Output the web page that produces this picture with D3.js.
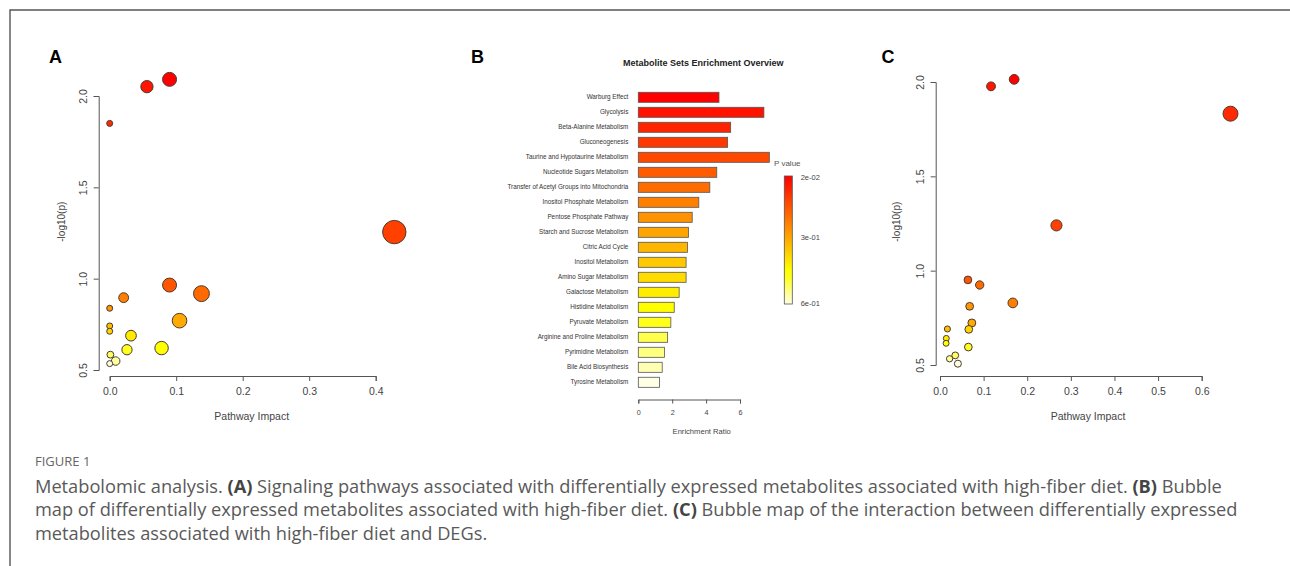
<!DOCTYPE html>
<html>
<head>
<meta charset="utf-8">
<script src="https://cdn.jsdelivr.net/npm/d3@7"></script>
<style>
  html, body { margin: 0; padding: 0; background: #fff; }
  svg { display: block; }
  .rfont { font-family: "Liberation Sans", Arial, sans-serif; }
</style>
</head>
<body>
<svg id="fig" width="1290" height="566"></svg>
<script>
// Panel A: pathway impact vs -log10(p)
var aImpact = [0.090, 0.056, 0.000, 0.428, 0.090, 0.138, 0.021, 0.000, 0.105, 0.000, 0.000, 0.032, 0.078, 0.026, 0.001, 0.009, 0.000];
var aLogP   = [2.091, 2.051, 1.850, 1.255, 0.965, 0.918, 0.896, 0.838, 0.770, 0.741, 0.712, 0.688, 0.620, 0.611, 0.584, 0.549, 0.535];
var aXTicks = [0, 0.1, 0.2, 0.3, 0.4];

// Panel C: interaction with DEGs
var cImpact = [0.170, 0.117, 0.666, 0.267, 0.064, 0.091, 0.167, 0.068, 0.073, 0.017, 0.066, 0.0145, 0.014, 0.065, 0.035, 0.022, 0.041];
var cLogP   = [2.014, 1.977, 1.832, 1.240, 0.951, 0.924, 0.829, 0.811, 0.723, 0.691, 0.689, 0.641, 0.615, 0.595, 0.551, 0.533, 0.507];
var cXTicks = [0, 0.1, 0.2, 0.3, 0.4, 0.5, 0.6];

var yTicks = [0.5, 1.0, 1.5, 2.0];

// Panel B: enrichment overview
var bPathways = ["Warburg Effect", "Glycolysis", "Beta-Alanine Metabolism", "Gluconeogenesis",
  "Taurine and Hypotaurine Metabolism", "Nucleotide Sugars Metabolism",
  "Transfer of Acetyl Groups into Mitochondria", "Inositol Phosphate Metabolism",
  "Pentose Phosphate Pathway", "Starch and Sucrose Metabolism", "Citric Acid Cycle",
  "Inositol Metabolism", "Amino Sugar Metabolism", "Galactose Metabolism", "Histidine Metabolism",
  "Pyruvate Metabolism", "Arginine and Proline Metabolism", "Pyrimidine Metabolism",
  "Bile Acid Biosynthesis", "Tyrosine Metabolism"];
var bRatio = [4.76, 7.41, 5.45, 5.27, 7.73, 4.63, 4.22, 3.57, 3.18, 2.96, 2.90, 2.82, 2.82, 2.41, 2.12, 1.92, 1.73, 1.55, 1.41, 1.25];
var bXTicks = [0, 2, 4, 6];
var legendP = [0.02, 0.3, 0.6];
var legendLabels = ["2e-02", "3e-01", "6e-01"];

var captionLines = [
  [["Metabolomic analysis. ", 0], ["(A)", 1], [" Signaling pathways associated with differentially expressed metabolites associated with high-fiber diet. ", 0], ["(B)", 1], [" Bubble", 0]],
  [["map of differentially expressed metabolites associated with high-fiber diet. ", 0], ["(C)", 1], [" Bubble map of the interaction between differentially expressed", 0]],
  [["metabolites associated with high-fiber diet and DEGs.", 0]]
];

// R style heat.colors(n)
function heatColors(n) {
  var j = Math.floor(n / 4), i = n - j;
  var hue = d3.scaleLinear().domain([0, i - 1]).range([0, 60]);
  var cols = d3.range(i).map(function(k) { return d3.hsl(hue(k), 1, 0.5).formatHex(); });
  var sat = d3.scaleLinear().domain([0, j - 1]).range([1 - 1 / (2 * j), 1 / (2 * j)]);
  d3.range(j).forEach(function(k) {
    cols.push(d3.rgb(255, 255, Math.round(255 * (1 - sat(k)))).formatHex());
  });
  return cols;
}

var svg = d3.select("#fig");

// frame
svg.append("path")
  .attr("d", "M10,566V10H1290")
  .attr("fill", "none")
  .attr("stroke", "#555")
  .attr("stroke-width", 1.4);

function styleAxis(g, fs) {
  g.select(".domain").attr("stroke", "#555").attr("stroke-width", 1);
  g.selectAll(".tick line").attr("stroke", "#555").attr("stroke-width", 1);
  g.selectAll(".tick text")
    .attr("fill", "#444")
    .style("font-family", "Liberation Sans, Arial, sans-serif")
    .style("font-size", fs + "px");
}

function bubblePanel(opt) {
  var x = d3.scaleLinear().domain(opt.xDomain).range(opt.xRange);
  var y = d3.scaleLinear().domain([0.5, 2.0]).range(opt.yRange);
  var r = d3.scaleSqrt().domain([0, d3.max(opt.impact)]).range(opt.rRange);

  var n = opt.logp.length;
  var order = d3.range(n).sort(function(a, b) { return opt.logp[b] - opt.logp[a]; });
  var rank = [];
  order.forEach(function(idx, k) { rank[idx] = k; });
  var heat = heatColors(n);

  var gx = svg.append("g")
    .attr("transform", "translate(0," + opt.xAxisY + ")")
    .call(d3.axisBottom(x).tickValues(opt.xTicks).tickFormat(d3.format(".1f"))
      .tickSizeOuter(0).tickSize(5).tickPadding(7));
  styleAxis(gx, 10.5);

  var gy = svg.append("g")
    .attr("transform", "translate(" + opt.yAxisX + ",0)")
    .call(d3.axisLeft(y).tickValues(yTicks).tickFormat(d3.format(".1f"))
      .tickSizeOuter(0).tickSize(5));
  styleAxis(gy, 10.5);
  gy.selectAll(".tick text")
    .attr("transform", "rotate(-90)")
    .attr("x", 0).attr("y", -12).attr("dy", 0)
    .style("text-anchor", "middle");

  var idx = d3.range(n).sort(function(a, b) { return opt.impact[b] - opt.impact[a]; });
  svg.append("g").selectAll("circle")
    .data(idx)
    .join("circle")
    .attr("cx", function(i) { return x(opt.impact[i]); })
    .attr("cy", function(i) { return y(opt.logp[i]); })
    .attr("r", function(i) { return r(opt.impact[i]); })
    .attr("fill", function(i) { return heat[rank[i]]; })
    .attr("stroke", "#4a3a30")
    .attr("stroke-width", 1);

  svg.append("text").attr("class", "rfont")
    .attr("x", opt.titleX).attr("y", 420)
    .attr("text-anchor", "middle")
    .attr("fill", "#444")
    .style("font-size", "10.5px")
    .text("Pathway Impact");

  svg.append("text").attr("class", "rfont")
    .attr("transform", "translate(" + opt.yLabX + ",221.7) rotate(-90)")
    .attr("text-anchor", "middle")
    .attr("fill", "#444")
    .style("font-size", "10px")
    .text("-log10(p)");

  svg.append("text").attr("class", "rfont")
    .attr("x", opt.letterX).attr("y", 62.7)
    .attr("font-weight", "bold")
    .style("font-size", "18px")
    .attr("fill", "#000")
    .text(opt.letter);
}

bubblePanel({
  impact: aImpact, logp: aLogP, xTicks: aXTicks,
  xDomain: [0, 0.4], xRange: [109.7, 375.7], yRange: [370, 96],
  rRange: [3, 11.7], xAxisY: 376, yAxisX: 98.7,
  titleX: 251.7, yLabX: 64.5, letter: "A", letterX: 49
});

bubblePanel({
  impact: cImpact, logp: cLogP, xTicks: cXTicks,
  xDomain: [0, 0.6], xRange: [940, 1201.7], yRange: [365, 82],
  rRange: [2.2, 7.5], xAxisY: 376, yAxisX: 935.7,
  titleX: 1088, yLabX: 899.8, letter: "C", letterX: 881.5
});

// ----- Panel B -----
var xB = d3.scaleLinear().domain([0, 6]).range([638.3, 740]);
var yB = d3.scaleBand().domain(bPathways).range([89.8, 389.8]).paddingInner(0.33).paddingOuter(0.165);
var heatB = heatColors(bPathways.length);

svg.append("g").selectAll("rect")
  .data(bPathways)
  .join("rect")
  .attr("x", xB(0))
  .attr("y", function(d) { return yB(d); })
  .attr("width", function(d, i) { return xB(bRatio[i]) - xB(0); })
  .attr("height", yB.bandwidth())
  .attr("fill", function(d, i) { return heatB[i]; })
  .attr("stroke", "#555")
  .attr("stroke-width", 0.8);

var gyB = svg.append("g")
  .attr("transform", "translate(" + xB(0) + ",0)")
  .call(d3.axisLeft(yB).tickSize(0).tickPadding(10));
gyB.select(".domain").remove();
gyB.selectAll(".tick text")
  .attr("fill", "#333")
  .style("font-family", "Liberation Sans, Arial, sans-serif")
  .style("font-size", "6.3px");

var gxB = svg.append("g")
  .attr("transform", "translate(0,399.5)")
  .call(d3.axisBottom(xB).tickValues(bXTicks).tickFormat(d3.format("d"))
    .tickSizeOuter(0).tickSize(4).tickPadding(6));
styleAxis(gxB, 7.2);

svg.append("text").attr("class", "rfont")
  .attr("x", 701.7).attr("y", 433.5)
  .attr("text-anchor", "middle")
  .attr("fill", "#444")
  .style("font-size", "7.6px")
  .text("Enrichment Ratio");

svg.append("text").attr("class", "rfont")
  .attr("x", 703.3).attr("y", 65.5)
  .attr("text-anchor", "middle")
  .attr("font-weight", "bold")
  .attr("fill", "#222")
  .style("font-size", "9px")
  .text("Metabolite Sets Enrichment Overview");

svg.append("text").attr("class", "rfont")
  .attr("x", 471).attr("y", 62.7)
  .attr("font-weight", "bold")
  .style("font-size", "18px")
  .attr("fill", "#000")
  .text("B");

// legend
var grad = svg.append("defs").append("linearGradient")
  .attr("id", "pgrad").attr("x1", 0).attr("x2", 0).attr("y1", 0).attr("y2", 1);
grad.selectAll("stop")
  .data(heatB)
  .join("stop")
  .attr("offset", function(d, i) { return i / (heatB.length - 1); })
  .attr("stop-color", function(d) { return d; });

var yLeg = d3.scaleLinear().domain([0.02, 0.6]).range([177, 303]);
svg.append("rect")
  .attr("x", 784.3).attr("y", 176)
  .attr("width", 8).attr("height", 128)
  .attr("fill", "url(#pgrad)")
  .attr("stroke", "#555")
  .attr("stroke-width", 0.8);

svg.append("text").attr("class", "rfont")
  .attr("x", 774).attr("y", 166)
  .attr("fill", "#555")
  .style("font-size", "8px")
  .text("P value");

svg.append("g").selectAll("text")
  .data(legendP)
  .join("text")
  .attr("class", "rfont")
  .attr("x", 800.7)
  .attr("y", function(d) { return yLeg(d); })
  .attr("dy", "0.35em")
  .attr("fill", "#444")
  .style("font-size", "7.5px")
  .text(function(d, i) { return legendLabels[i]; });

// ----- caption -----
svg.append("text")
  .attr("x", 35).attr("y", 466)
  .attr("fill", "#666")
  .style("font-family", "Open Sans, sans-serif")
  .style("font-size", "13px")
  .text("FIGURE 1");

var capFont = 16;
var cap = svg.append("g")
  .style("font-family", "Open Sans, sans-serif")
  .style("font-size", capFont + "px");

var capBase = [492.5, 516.3, 540];
var capNodes = captionLines.map(function(line, li) {
  var t = cap.append("text")
    .attr("x", 35).attr("y", capBase[li])
    .attr("fill", "#595959");
  t.selectAll("tspan")
    .data(line)
    .join("tspan")
    .attr("font-weight", function(d) { return d[1] ? 700 : 400; })
    .attr("fill", function(d) { return d[1] ? "#444" : "#595959"; })
    .text(function(d) { return d[0]; });
  return t;
});
var w1 = capNodes[0].node().getComputedTextLength();
cap.style("font-size", (capFont * 1187 / w1) + "px");
</script>
</body>
</html>
